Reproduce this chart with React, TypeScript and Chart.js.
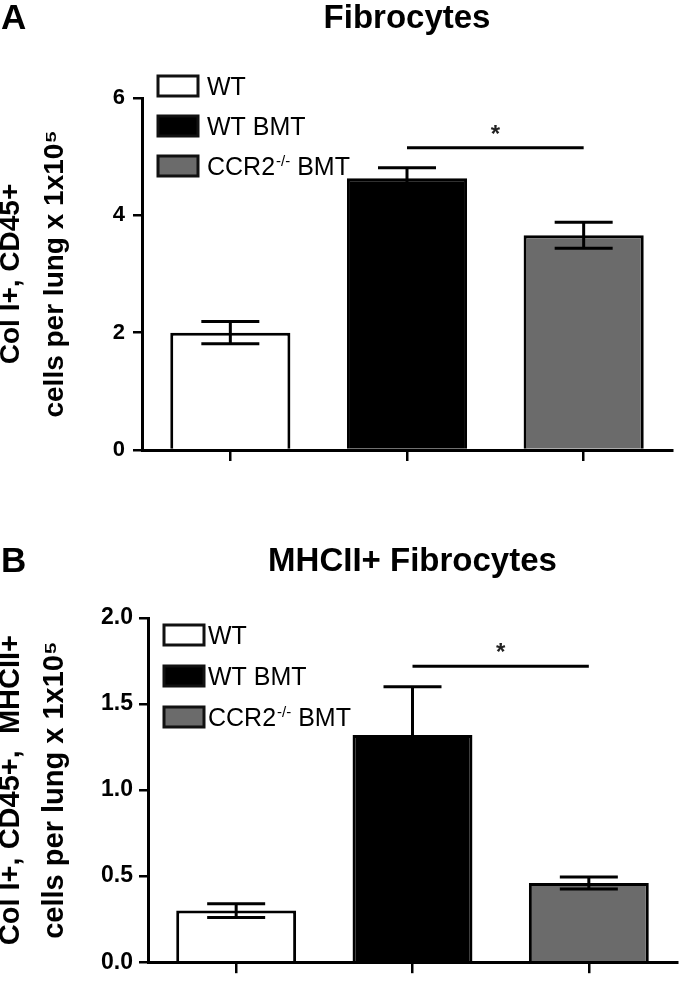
import React, { useEffect, useRef } from "react";
import { Chart, registerables } from "chart.js";

Chart.register(...registerables);

// ---------- data ----------
const categories = ["WT", "WT BMT", "CCR2-/- BMT"];
const barColors = ["#ffffff", "#000000", "#6b6b6b"];

const fibroMeans = [2.0, 4.63, 3.66];
const fibroErrors = [0.19, 0.18, 0.22];
const fibroTicks = [0, 2, 4, 6];
const fibroSigPair = [1, 2];
const fibroSigLevel = [5.15];
const fibroTitle = "Fibrocytes";
const fibroYTitle = ["Col I+, CD45+", "cells per lung x 1x10\u2075"];

const mhcMeans = [0.3, 1.32, 0.46];
const mhcErrors = [0.04, 0.28, 0.035];
const mhcTicks = [0, 0.5, 1.0, 1.5, 2.0];
const mhcSigPair = [1, 2];
const mhcSigLevel = [1.72];
const mhcTitle = "MHCII+ Fibrocytes";
const mhcYTitle = ["Col I+, CD45+,  MHCII+", "cells per lung x 1x10\u2075"];

const FONT = "'Liberation Sans', Arial, sans-serif";

type PanelProps = {
  letter: string;
  title: string;
  yTitle: string[];
  means: number[];
  errors: number[];
  ticks: number[];
  decimals: number;
  sigPair: number[];
  sigLevel: number;
  height: number;
  padTop: number;
  padBottom: number;
  padRight: number;
  axisWidth: number;
  tickPad: number;
  tickSize: number;
  yTitleSize: number;
  titleY: number;
  letterBaseline: number;
  legendTopOffset: number;
  legendGap: number;
  legendTextGap: number;
};

function Panel(p: PanelProps) {
  const ref = useRef<HTMLCanvasElement | null>(null);

  useEffect(() => {
    if (!ref.current) return;

    const overlay = {
      id: "overlay",
      afterDatasetsDraw(chart: any) {
        const ctx = chart.ctx;
        const xs = chart.scales.x;
        const ys = chart.scales.y;
        ctx.save();
        ctx.strokeStyle = "#000";
        ctx.lineWidth = 3;
        ctx.lineCap = "butt";
        // error bars
        p.means.forEach((m, i) => {
          const x = xs.getPixelForValue(i);
          const yt = ys.getPixelForValue(m + p.errors[i]);
          const yb = ys.getPixelForValue(m - p.errors[i]);
          const cap = 29;
          ctx.beginPath();
          ctx.moveTo(x, yt);
          ctx.lineTo(x, yb);
          ctx.moveTo(x - cap, yt);
          ctx.lineTo(x + cap, yt);
          ctx.moveTo(x - cap, yb);
          ctx.lineTo(x + cap, yb);
          ctx.stroke();
        });
        // significance line
        const x1 = xs.getPixelForValue(p.sigPair[0]);
        const x2 = xs.getPixelForValue(p.sigPair[1]);
        const sy = ys.getPixelForValue(p.sigLevel);
        ctx.beginPath();
        ctx.moveTo(x1, sy);
        ctx.lineTo(x2, sy);
        ctx.stroke();
        ctx.fillStyle = "#222";
        ctx.font = `bold 24px ${FONT}`;
        ctx.textAlign = "center";
        ctx.textBaseline = "alphabetic";
        ctx.fillText("*", (x1 + x2) / 2, sy - 6);
        ctx.restore();
      },
      afterDraw(chart: any) {
        const ctx = chart.ctx;
        const area = chart.chartArea;
        ctx.save();
        // panel letter
        ctx.fillStyle = "#000";
        ctx.font = `bold 35px ${FONT}`;
        ctx.textAlign = "left";
        ctx.textBaseline = "alphabetic";
        ctx.fillText(p.letter, 1, p.letterBaseline);
        // title
        ctx.font = `bold 33px ${FONT}`;
        ctx.textAlign = "center";
        ctx.textBaseline = "middle";
        ctx.fillText(p.title, (area.left + area.right) / 2, p.titleY);
        // legend
        const bx = area.left + 16;
        const bw = 40;
        const bh = 20;
        categories.forEach((c, i) => {
          const by = area.top + p.legendTopOffset + i * p.legendGap;
          ctx.fillStyle = barColors[i];
          ctx.fillRect(bx, by, bw, bh);
          ctx.strokeStyle = "#111";
          ctx.lineWidth = 3;
          ctx.strokeRect(bx, by, bw, bh);
          ctx.fillStyle = "#000";
          ctx.textAlign = "left";
          ctx.textBaseline = "alphabetic";
          const base = by + bh / 2 + 9;
          let tx = bx + bw + p.legendTextGap;
          const mm = c.match(/^(.*?)(-\/-)(.*)$/);
          ctx.font = `25px ${FONT}`;
          if (mm) {
            ctx.fillText(mm[1], tx, base);
            tx += ctx.measureText(mm[1]).width + 1;
            ctx.font = `15px ${FONT}`;
            ctx.fillText(mm[2], tx, base - 9);
            tx += ctx.measureText(mm[2]).width;
            ctx.font = `25px ${FONT}`;
            ctx.fillText(mm[3], tx, base);
          } else {
            ctx.fillText(c, tx, base);
          }
        });
        ctx.restore();
      },
    };

    const chart = new Chart(ref.current, {
      type: "bar",
      data: {
        labels: categories,
        datasets: [
          {
            data: p.means,
            backgroundColor: barColors,
            borderColor: "#000",
            borderWidth: 3,
            barPercentage: 0.68,
            categoryPercentage: 1,
          },
        ],
      },
      options: {
        animation: false,
        responsive: false,
        maintainAspectRatio: false,
        layout: {
          padding: { left: 0, top: p.padTop, right: p.padRight, bottom: p.padBottom },
        },
        plugins: {
          legend: { display: false },
          tooltip: { enabled: false },
          title: { display: false },
        },
        scales: {
          x: {
            type: "category",
            offset: true,
            grid: {
              offset: false,
              drawOnChartArea: false,
              drawTicks: true,
              tickLength: 11,
              color: "#000",
              lineWidth: 2.5,
            },
            border: { display: true, color: "#000", width: 3 },
            ticks: { display: false },
            afterFit: (s: any) => {
              s.height = 12;
            },
          },
          y: {
            min: 0,
            max: p.ticks[p.ticks.length - 1],
            afterBuildTicks: (s: any) => {
              s.ticks = p.ticks.map((v) => ({ value: v }));
            },
            ticks: {
              color: "#000",
              padding: p.tickPad,
              font: { family: FONT, weight: "bold", size: p.tickSize },
              callback: (v: any) => Number(v).toFixed(p.decimals),
            },
            grid: {
              drawOnChartArea: false,
              drawTicks: true,
              tickLength: 9,
              color: "#000",
              lineWidth: 2.5,
            },
            border: { display: true, color: "#000", width: 3 },
            title: {
              display: true,
              text: p.yTitle,
              color: "#000",
              font: { family: FONT, weight: "bold", size: p.yTitleSize, lineHeight: 44 / p.yTitleSize },
              padding: { top: -11, bottom: 0 },
            },
            afterFit: (s: any) => {
              s.width = p.axisWidth;
            },
          },
        },
      },
      plugins: [overlay],
    } as any);

    return () => chart.destroy();
  }, []);

  return (
    <canvas
      ref={ref}
      width={680}
      height={p.height}
      style={{ display: "block", width: 680, height: p.height }}
    />
  );
}

export default function App() {
  return (
    <div
      style={{
        position: "absolute",
        left: 0,
        top: 0,
        width: 680,
        height: 982,
        background: "#fff",
        overflow: "hidden",
      }}
    >
      <Panel
        letter="A"
        title={fibroTitle}
        yTitle={fibroYTitle}
        means={fibroMeans}
        errors={fibroErrors}
        ticks={fibroTicks}
        decimals={0}
        sigPair={fibroSigPair}
        sigLevel={fibroSigLevel[0]}
        height={490}
        padTop={98}
        padBottom={28}
        padRight={8}
        axisWidth={142}
        tickPad={8}
        tickSize={22}
        yTitleSize={28}
        titleY={19}
        letterBaseline={29}
        legendTopOffset={-22}
        legendGap={40}
        legendTextGap={9}
      />
      <Panel
        letter="B"
        title={mhcTitle}
        yTitle={mhcYTitle}
        means={mhcMeans}
        errors={mhcErrors}
        ticks={mhcTicks}
        decimals={1}
        sigPair={mhcSigPair}
        sigLevel={mhcSigLevel[0]}
        height={492}
        padTop={128}
        padBottom={0}
        padRight={3}
        axisWidth={148}
        tickPad={6}
        tickSize={23}
        yTitleSize={29}
        titleY={72}
        letterBaseline={82}
        legendTopOffset={7}
        legendGap={41}
        legendTextGap={4}
      />
    </div>
  );
}
